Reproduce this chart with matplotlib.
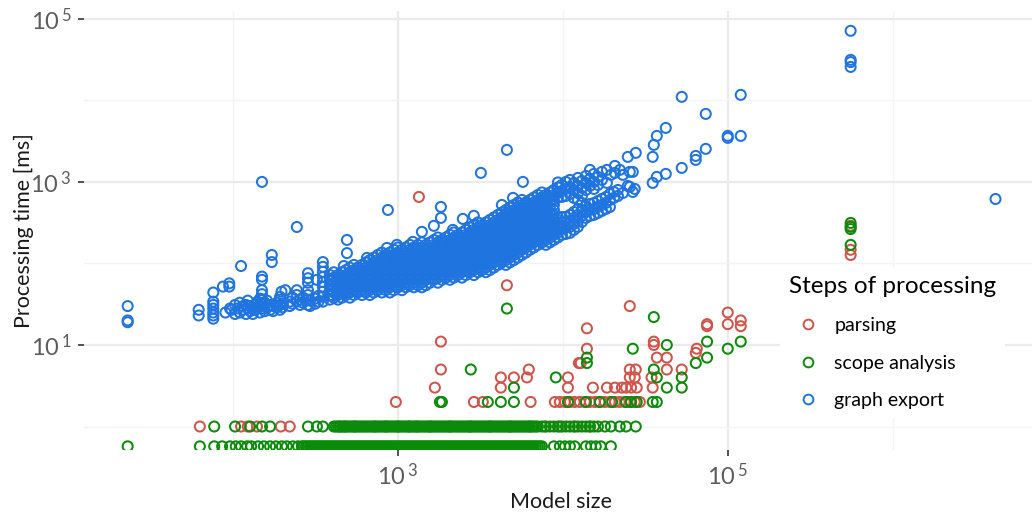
import numpy as np
import matplotlib
matplotlib.use("Agg")
import matplotlib.pyplot as plt
from matplotlib.lines import Line2D
from matplotlib.ticker import FixedLocator, FuncFormatter, NullFormatter

# ---------------------------------------------------------------------------
# Processing time per step (ms) against model size.
# Timings are whole milliseconds; a value of 0 ms is drawn on the floor of the
# plotted range, as a log scale cannot show it.
# ---------------------------------------------------------------------------
steps = ["parsing", "scope analysis", "graph export"]
step_colors = ["#d0544a", "#0a8c0a", "#1f74e0"]

# --- parsing ---------------------------------------------------------------
parsing_sizes_1ms = [63, 112, 123, 140, 195, 221, 445, 477, 548, 726, 846, 1000,
                     1166, 1304, 1563, 2067, 2733, 3613, 4777, 6316, 7770, 9594,
                     11800, 14598]
parsing_sizes_2ms = [972, 2890, 3275, 6380, 8950, 9594, 10300, 11041, 11800, 12680,
                     13600, 14598, 15650, 16750, 17990, 19280, 20700, 22130, 23760,
                     25470, 27300, 29310]
parsing_sizes_3ms = [1676, 4210, 10740, 15220, 18510, 20700, 22820, 24200, 25950,
                     28070, 35070]
parsing_sizes_4ms = [4210, 5052, 6060, 10740, 25470, 27300, 34500]
parsing_sizes_5ms = [1823, 6220, 25470, 27690, 42700, 52600]
parsing_other = [(12510, 6), (12840, 6), (37150, 7), (42700, 7), (64000, 8),
                 (64900, 9), (14000, 9), (35620, 10), (35620, 11), (1823, 11),
                 (14000, 16), (25470, 30), (74900, 18), (74900, 17), (100000, 25),
                 (100000, 18), (119900, 20), (119900, 17), (4580, 54), (1341, 654),
                 (556000, 147), (556000, 127), (556000, 290)]

# --- scope analysis --------------------------------------------------------
scope_sizes_0ms = [23, 63, 77, 86, 96, 104, 112, 122, 129, 142, 154, 168, 182, 198,
                   212, 231, 248, 262, 269, 277, 285, 293, 301, 310, 319, 327, 336,
                   346, 356, 366, 376, 387, 398, 409, 421, 433, 445, 458, 471, 484,
                   498, 512, 526, 541, 556, 572, 588, 605, 622, 640, 658, 676, 695,
                   715, 735, 756, 778, 800, 823, 846, 870, 894, 919, 946, 973, 1000,
                   1028, 1057, 1087, 1118, 1150, 1182, 1215, 1250, 1285, 1322, 1359,
                   1398, 1437, 1478, 1520, 1563, 1607, 1653, 1700, 1748, 1797, 1848,
                   1900, 1954, 2009, 2067, 2125, 2186, 2247, 2311, 2376, 2444, 2513,
                   2584, 2657, 2733, 2810, 2890, 2972, 3056, 3142, 3231, 3322, 3417,
                   3513, 3613, 3715, 3821, 3929, 4040, 4154, 4272, 4393, 4518, 4645,
                   4777, 4912, 5052, 5195, 5342, 5493, 5649, 5808, 5973, 6142, 6316,
                   6495, 6679, 6868, 7063, 7262, 7468, 8830, 9594, 10300, 11041,
                   11800, 13800, 14800, 15850, 16990, 19560]
scope_sizes_1ms = [77, 103, 127, 150, 168, 285, 323, 351, 409, 421, 433, 445, 458,
                   471, 484, 498, 512, 526, 541, 556, 572, 588, 605, 622, 640, 658,
                   676, 695, 715, 735, 756, 778, 800, 823, 846, 870, 894, 919, 946,
                   973, 1000, 1028, 1057, 1087, 1118, 1150, 1182, 1215, 1250, 1285,
                   1322, 1359, 1398, 1437, 1478, 1520, 1563, 1607, 1653, 1700, 1748,
                   1797, 1848, 1900, 1954, 2009, 2067, 2125, 2186, 2247, 2311, 2376,
                   2444, 2513, 2584, 2657, 2733, 2810, 2890, 2972, 3056, 3142, 3231,
                   3322, 3417, 3513, 3613, 3715, 3821, 3929, 4040, 4154, 4272, 4393,
                   4518, 4645, 4777, 4912, 5052, 5195, 5342, 5493, 5649, 5808, 5973,
                   6142, 6316, 6495, 6679, 6868, 7063, 7468, 7897, 8351, 8831, 9338,
                   9874, 10441, 11041, 11675, 12346, 13055, 13805, 14598, 15436,
                   16323, 17990, 19560, 22130, 24200, 27690]
scope_sizes_2ms = [1798, 1850, 3510, 4210, 5052, 10740, 13805, 16750, 19900, 24200,
                   25950, 28070, 35070, 37150]
scope_sizes_3ms = [5052, 42700, 52600]
scope_sizes_4ms = [9070, 37150, 52600]
scope_sizes_5ms = [2767, 35620]
scope_other = [(14000, 7), (14000, 6), (26560, 9), (42700, 10), (35620, 22),
               (64000, 6), (74900, 7), (74900, 11), (100000, 9), (119900, 11),
               (4580, 28), (556000, 314), (556000, 281), (556000, 264),
               (556000, 169)]

# --- graph export ----------------------------------------------------------
# small models: (size, ms)
export_small = [(23, 30), (23, 20), (23, 19), (62, 27), (62, 23), (76, 44), (76, 34),
                (76, 31), (76, 28), (76, 25), (76, 23), (76, 21), (87, 52), (90, 25),
                (95, 52), (95, 57), (96, 28), (98, 27), (103, 24), (103, 31),
                (107, 28), (110, 25), (110, 33), (112, 93), (115, 27), (115, 30),
                (120, 24), (120, 31), (123, 28), (123, 35), (127, 26), (127, 30),
                (132, 29), (132, 24), (136, 31), (136, 27), (141, 28), (141, 34),
                (146, 25), (146, 30), (146, 37), (150, 1000), (150, 69), (150, 63),
                (150, 47), (150, 42), (150, 36), (150, 32), (150, 28), (156, 26),
                (156, 33), (161, 29), (161, 35), (168, 27), (168, 31), (172, 127),
                (172, 104), (175, 30), (175, 26), (185, 29), (185, 33), (193, 27),
                (193, 31), (193, 36), (193, 39), (197, 45), (200, 32), (200, 29),
                (208, 47), (221, 30), (221, 34), (230, 32), (230, 38), (244, 280),
                (244, 47), (244, 41), (244, 34), (255, 31), (255, 36), (266, 33),
                (266, 38), (285, 76), (285, 66), (285, 58), (285, 47), (285, 41),
                (285, 36), (285, 31), (293, 35), (293, 30), (315, 37), (315, 32),
                (323, 63), (330, 40), (330, 34), (351, 104), (351, 91), (351, 79),
                (351, 68), (351, 59), (351, 52), (351, 45), (351, 39), (351, 34)]

# bulk of the models: (size, [ms of the models with that size])
export_core = [
    (387, [72, 63, 54, 47, 41, 36]),
    (409, [78, 67, 58, 51, 44, 38]),
    (433, [72, 63, 54, 47, 41, 36]),
    (458, [78, 67, 58, 51, 44, 38]),
    (484, [83, 72, 63, 54, 47, 41]),
    (512, [89, 78, 67, 58, 51, 44, 38]),
    (541, [96, 83, 72, 63, 54, 47, 41]),
    (572, [89, 78, 67, 58, 51, 44]),
    (605, [96, 83, 72, 63, 54, 47, 41]),
    (640, [103, 89, 78, 67, 58, 51, 44]),
    (676, [110, 96, 83, 72, 63, 54, 47, 41]),
    (715, [118, 103, 89, 78, 67, 58, 51, 44]),
    (756, [127, 110, 96, 83, 72, 63, 54, 47]),
    (800, [136, 118, 103, 89, 78, 67, 58, 51, 44]),
    (846, [127, 110, 96, 83, 72, 63, 54, 47]),
    (894, [136, 118, 103, 89, 78, 67, 58, 51, 44]),
    (946, [147, 127, 110, 96, 83, 72, 63, 54, 47]),
    (1000, [157, 136, 118, 103, 89, 78, 67, 58, 51]),
    (1057, [147, 127, 110, 96, 83, 72, 63, 54, 47]),
    (1118, [157, 136, 118, 103, 89, 78, 67, 58, 51]),
    (1182, [169, 147, 127, 110, 96, 83, 72, 63, 54]),
    (1250, [157, 136, 118, 103, 89, 78, 67, 58, 51]),
    (1322, [169, 147, 127, 110, 96, 83, 72, 63, 54]),
    (1398, [181, 157, 136, 118, 103, 89, 78, 67, 58, 51]),
    (1478, [169, 147, 127, 110, 96, 83, 72, 63, 54]),
    (1563, [181, 157, 136, 118, 103, 89, 78, 67, 58]),
    (1653, [194, 169, 147, 127, 110, 96, 83, 72, 63]),
    (1748, [208, 181, 157, 136, 118, 103, 89, 78, 67, 58]),
    (1848, [194, 169, 147, 127, 110, 96, 83, 72, 63]),
    (1954, [208, 181, 157, 136, 118, 103, 89, 78, 67]),
    (2067, [224, 194, 169, 147, 127, 110, 96, 83, 72, 63]),
    (2186, [240, 208, 181, 157, 136, 118, 103, 89, 78, 67]),
    (2311, [224, 194, 169, 147, 127, 110, 96, 83, 72]),
    (2444, [240, 208, 181, 157, 136, 118, 103, 89, 78, 67]),
    (2584, [258, 224, 194, 169, 147, 127, 110, 96, 83, 72]),
    (2733, [277, 240, 208, 181, 157, 136, 118, 103, 89, 78]),
    (2890, [297, 258, 224, 194, 169, 147, 127, 110, 96, 83, 72]),
    (3056, [319, 277, 240, 208, 181, 157, 136, 118, 103, 89, 78]),
    (3231, [297, 258, 224, 194, 169, 147, 127, 110, 96, 83]),
    (3417, [319, 277, 240, 208, 181, 157, 136, 118, 103, 89, 78]),
    (3613, [342, 297, 258, 224, 194, 169, 147, 127, 110, 96, 83]),
    (3821, [367, 319, 277, 240, 208, 181, 157, 136, 118, 103, 89]),
    (4040, [394, 342, 297, 258, 224, 194, 169, 147, 127, 110, 96]),
    (4272, [422, 367, 319, 277, 240, 208, 181, 157, 136, 118, 103]),
    (4518, [453, 394, 342, 297, 258, 224, 194, 169, 147, 127, 110, 96]),
    (4777, [486, 422, 367, 319, 277, 240, 208, 181, 157, 136, 118, 103]),
    (5052, [522, 453, 394, 342, 297, 258, 224, 194, 169, 147, 127, 110]),
    (5342, [560, 486, 422, 367, 319, 277, 240, 208, 181, 157, 136, 118]),
    (5649, [601, 522, 453, 394, 342, 297, 258, 224, 194, 169, 147, 127]),
    (5973, [560, 486, 422, 367, 319, 277, 240, 208, 181, 157, 136]),
    (6316, [601, 522, 453, 394, 342, 297, 258, 224, 194, 169, 147]),
    (6679, [645, 560, 486, 422, 367, 319, 277, 240, 208, 181, 157]),
    (7063, [692, 601, 522, 453, 394, 342, 297, 258, 224, 194, 169]),
    (7468, [743, 645, 560, 486, 422, 367, 319, 277, 240, 208, 181]),
    (7897, [692, 601, 522, 453, 394, 342, 297, 258, 224, 194, 169]),
    (8351, [743, 645, 560, 486, 422, 367, 319, 277, 240, 208, 181]),
    (8831, [797, 692, 601, 522, 453, 394, 342, 297, 258, 224, 194]),
]

# larger models split into a slower and a faster branch
export_large_slow = [
    (9338, [985, 855, 743, 645]), (9874, [918, 775, 654]),
    (10441, [1000, 820, 673]), (11041, [1058, 868, 712]),
    (11675, [972, 797, 636]), (12346, [1120, 893, 732, 601]),
    (13055, [1029, 844, 673, 552]), (13805, [1185, 972, 797]),
    (14598, [1404, 1089, 893]), (15436, [1254, 1000, 820]),
    (16323, [1152, 918]), (17260, [1327, 1058]), (18508, [1404, 972]),
    (19571, [1219]), (20695, [1571, 1290]), (22190, [1404]),
    (23140, [1219, 732]), (24770, [2027, 893]), (25470, [1327, 868]),
    (26560, [1327, 753]), (27300, [820]), (27690, [2270]),
    (35070, [2027, 972]), (35620, [2844]), (37150, [3667, 1152]),
    (42100, [4599, 1254]), (52600, [11040, 1485]), (63970, [2085, 1862]),
    (73560, [6823, 2541]), (100000, [3667, 3467]), (119900, [11680, 3667]),
]
export_large_fast = [
    (9338, [367, 319, 277, 240, 208]), (9874, [372, 314, 265, 224]),
    (10441, [372, 323, 273, 230]), (11041, [394, 332, 281, 237]),
    (11675, [428, 362, 305, 258]), (12346, [466, 394, 332, 281]),
    (13055, [453, 383, 323]), (13805, [507, 428, 362]),
    (14598, [537, 453, 383]), (15436, [552, 466, 394]),
    (16323, [584, 493, 416]), (17260, [618, 522, 441]),
    (18251, [654, 552, 466]), (19299, [712, 601, 493]),
    (20408, [753, 636]), (21580, [797, 673]),
]

# isolated models: (size, ms)
export_outliers = [(470, 93), (491, 194), (491, 134), (649, 117), (858, 155),
                   (870, 453), (986, 169), (1233, 184), (1398, 244), (1652, 289),
                   (1823, 493), (1823, 362), (2154, 258), (2476, 352), (2888, 384),
                   (3185, 1290), (4270, 522), (4580, 2470), (4990, 637),
                   (5728, 1000), (556000, 71300), (556000, 31400), (556000, 29500),
                   (556000, 25700), (4200000, 617)]


def from_rows(rows):
    xs, ys = [], []
    for ms, sizes in rows:
        xs += list(sizes)
        ys += [ms] * len(sizes)
    return xs, ys


def from_pairs(pairs):
    return [p[0] for p in pairs], [p[1] for p in pairs]


def from_columns(columns):
    xs, ys = [], []
    for size, times in columns:
        xs += [size] * len(times)
        ys += list(times)
    return xs, ys


def combine(*parts):
    xs, ys = [], []
    for px, py in parts:
        xs += px
        ys += py
    return np.array(xs, float), np.array(ys, float)


parsing_x, parsing_y = combine(
    from_rows([(1, parsing_sizes_1ms), (2, parsing_sizes_2ms), (3, parsing_sizes_3ms),
               (4, parsing_sizes_4ms), (5, parsing_sizes_5ms)]),
    from_pairs(parsing_other))
scope_x, scope_y = combine(
    from_rows([(0, scope_sizes_0ms), (1, scope_sizes_1ms), (2, scope_sizes_2ms),
               (3, scope_sizes_3ms), (4, scope_sizes_4ms), (5, scope_sizes_5ms)]),
    from_pairs(scope_other))
export_x, export_y = combine(
    from_pairs(export_small), from_columns(export_core),
    from_columns(export_large_slow), from_columns(export_large_fast),
    from_pairs(export_outliers))

series = [(parsing_x, parsing_y), (scope_x, scope_y), (export_x, export_y)]

# ---------------------------------------------------------------------------
plt.rcParams["font.family"] = ["Lato", "DejaVu Sans"]
plt.rcParams["mathtext.fontset"] = "custom"
plt.rcParams["mathtext.rm"] = "Open Sans:light"

fig = plt.figure(figsize=(10.32, 5.13), dpi=100)
fig.patch.set_facecolor("white")
W, H = 1032, 513
ax = fig.add_axes([84 / W, 63 / H, 955 / W, 439 / H])

x_lim = (10 ** 1.097, 10 ** 6.887)
y_lim = (10 ** -0.288, 10 ** 5.096)
zero_floor = 10 ** -0.243   # where 0 ms timings are placed

ax.set_xscale("log")
ax.set_yscale("log")
ax.set_xlim(*x_lim)
ax.set_ylim(*y_lim)

marker_kw = dict(s=52, facecolors="none", linewidths=1.45, zorder=3)
for (xs, ys), color in zip(series, step_colors):
    ys_plot = np.where(ys > 0, ys, zero_floor)
    ax.scatter(xs, ys_plot, edgecolors=color, **marker_kw)

# grid and ticks
ax.xaxis.set_major_locator(FixedLocator([1e3, 1e5]))
ax.xaxis.set_minor_locator(FixedLocator([1e2, 1e4, 1e6]))
ax.yaxis.set_major_locator(FixedLocator([1e1, 1e3, 1e5]))
ax.yaxis.set_minor_locator(FixedLocator([1e0, 1e2, 1e4]))
power_fmt = FuncFormatter(lambda v, _: r"$\mathregular{10^{\,%d}}$" % round(np.log10(v)))
ax.xaxis.set_major_formatter(power_fmt)
ax.yaxis.set_major_formatter(power_fmt)
ax.xaxis.set_minor_formatter(NullFormatter())
ax.yaxis.set_minor_formatter(NullFormatter())

ax.set_axisbelow(True)
ax.grid(which="major", color="#ebebeb", linewidth=1.6)
ax.grid(which="minor", color="#f4f4f4", linewidth=1.0)
for side in ax.spines.values():
    side.set_visible(False)
ax.tick_params(which="major", length=4, width=1.2, color="#333333",
               labelsize=17, labelcolor="#5c5c5c", pad=5)
ax.tick_params(which="minor", length=0)

ax.set_xlabel("Model size", fontsize=15.5, color="#1a1a1a")
ax.set_ylabel("Processing time [ms]", fontsize=15.5, color="#1a1a1a")
ax.xaxis.set_label_coords(0.5, (450 - 492) / 439)
ax.yaxis.set_label_coords((34 - 84) / 955, 0.5)

handles = [Line2D([], [], linestyle="none", marker="o", markersize=7.0,
                  markerfacecolor="none", markeredgecolor=c, markeredgewidth=1.4)
           for c in step_colors]
leg = ax.legend(handles, steps, title="Steps of processing",
                loc="upper left", bbox_to_anchor=(780 / W, 1 - 267 / H),
                bbox_transform=fig.transFigure, fontsize=14, title_fontsize=17.5,
                frameon=True, facecolor="white", edgecolor="none", framealpha=1,
                fancybox=False, borderpad=0.45, labelspacing=1.05,
                handlelength=2.0, handletextpad=0.35, borderaxespad=0,
                alignment="left")
leg.set_zorder(5)

fig.savefig("out.png", dpi=100, facecolor="white")
